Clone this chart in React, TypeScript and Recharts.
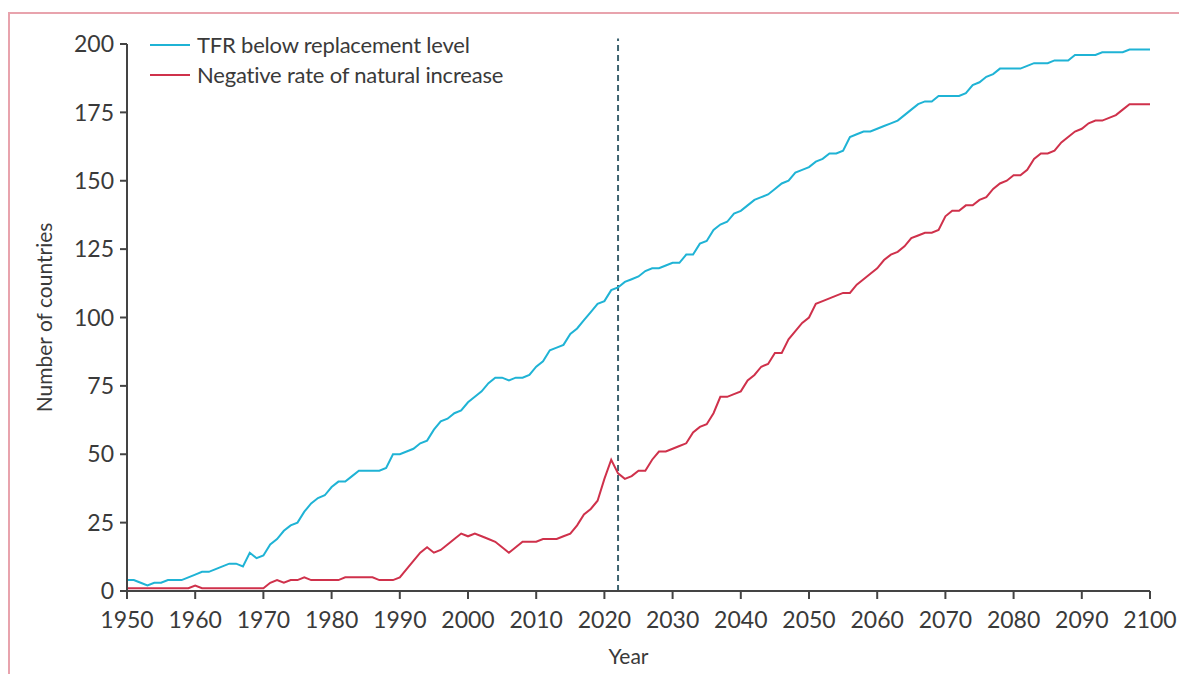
import React from "react"
import {
  LineChart,
  Line,
  XAxis,
  YAxis,
  Legend,
  ReferenceLine,
} from "recharts"

const years = [
  1950, 1951, 1952, 1953, 1954, 1955, 1956, 1957, 1958, 1959,
  1960, 1961, 1962, 1963, 1964, 1965, 1966, 1967, 1968, 1969,
  1970, 1971, 1972, 1973, 1974, 1975, 1976, 1977, 1978, 1979,
  1980, 1981, 1982, 1983, 1984, 1985, 1986, 1987, 1988, 1989,
  1990, 1991, 1992, 1993, 1994, 1995, 1996, 1997, 1998, 1999,
  2000, 2001, 2002, 2003, 2004, 2005, 2006, 2007, 2008, 2009,
  2010, 2011, 2012, 2013, 2014, 2015, 2016, 2017, 2018, 2019,
  2020, 2021, 2022, 2023, 2024, 2025, 2026, 2027, 2028, 2029,
  2030, 2031, 2032, 2033, 2034, 2035, 2036, 2037, 2038, 2039,
  2040, 2041, 2042, 2043, 2044, 2045, 2046, 2047, 2048, 2049,
  2050, 2051, 2052, 2053, 2054, 2055, 2056, 2057, 2058, 2059,
  2060, 2061, 2062, 2063, 2064, 2065, 2066, 2067, 2068, 2069,
  2070, 2071, 2072, 2073, 2074, 2075, 2076, 2077, 2078, 2079,
  2080, 2081, 2082, 2083, 2084, 2085, 2086, 2087, 2088, 2089,
  2090, 2091, 2092, 2093, 2094, 2095, 2096, 2097, 2098, 2099,
  2100,
]

// countries with TFR below replacement level
const tfrBelow = [
  4, 4, 3, 2, 3, 3, 4, 4, 4, 5,
  6, 7, 7, 8, 9, 10, 10, 9, 14, 12,
  13, 17, 19, 22, 24, 25, 29, 32, 34, 35,
  38, 40, 40, 42, 44, 44, 44, 44, 45, 50,
  50, 51, 52, 54, 55, 59, 62, 63, 65, 66,
  69, 71, 73, 76, 78, 78, 77, 78, 78, 79,
  82, 84, 88, 89, 90, 94, 96, 99, 102, 105,
  106, 110, 111, 113, 114, 115, 117, 118, 118, 119,
  120, 120, 123, 123, 127, 128, 132, 134, 135, 138,
  139, 141, 143, 144, 145, 147, 149, 150, 153, 154,
  155, 157, 158, 160, 160, 161, 166, 167, 168, 168,
  169, 170, 171, 172, 174, 176, 178, 179, 179, 181,
  181, 181, 181, 182, 185, 186, 188, 189, 191, 191,
  191, 191, 192, 193, 193, 193, 194, 194, 194, 196,
  196, 196, 196, 197, 197, 197, 197, 198, 198, 198,
  198,
]

// countries with negative rate of natural increase
const negativeNatural = [
  1, 1, 1, 1, 1, 1, 1, 1, 1, 1,
  2, 1, 1, 1, 1, 1, 1, 1, 1, 1,
  1, 3, 4, 3, 4, 4, 5, 4, 4, 4,
  4, 4, 5, 5, 5, 5, 5, 4, 4, 4,
  5, 8, 11, 14, 16, 14, 15, 17, 19, 21,
  20, 21, 20, 19, 18, 16, 14, 16, 18, 18,
  18, 19, 19, 19, 20, 21, 24, 28, 30, 33,
  41, 48, 43, 41, 42, 44, 44, 48, 51, 51,
  52, 53, 54, 58, 60, 61, 65, 71, 71, 72,
  73, 77, 79, 82, 83, 87, 87, 92, 95, 98,
  100, 105, 106, 107, 108, 109, 109, 112, 114, 116,
  118, 121, 123, 124, 126, 129, 130, 131, 131, 132,
  137, 139, 139, 141, 141, 143, 144, 147, 149, 150,
  152, 152, 154, 158, 160, 160, 161, 164, 166, 168,
  169, 171, 172, 172, 173, 174, 176, 178, 178, 178,
  178,
]

const xTicks = [1950, 1960, 1970, 1980, 1990, 2000, 2010, 2020, 2030, 2040, 2050, 2060, 2070, 2080, 2090, 2100]
const yTicks = [0, 25, 50, 75, 100, 125, 150, 175, 200]

const data = years.map((year, i) => ({
  year,
  tfr: tfrBelow[i],
  nri: negativeNatural[i],
}))

const FONT = "Lato, 'Open Sans', sans-serif"
const TEXT = "#3a3a3a"
const AXIS = "#444"
const CYAN = "#1fb3d5"
const RED = "#cf314b"

const legendItems = [
  { label: "TFR below replacement level", color: CYAN },
  { label: "Negative rate of natural increase", color: RED },
]

function ChartLegend() {
  return (
    <div style={{ fontFamily: FONT, fontSize: 22, letterSpacing: -0.2, color: TEXT, lineHeight: "30px" }}>
      {legendItems.map((item) => (
        <div key={item.label} style={{ display: "flex", alignItems: "center" }}>
          <span style={{ width: 40, height: 2, background: item.color, marginRight: 7 }} />
          <span>{item.label}</span>
        </div>
      ))}
    </div>
  )
}

function YLabel({ viewBox }: any) {
  const cx = viewBox.x + 33
  const cy = viewBox.y + viewBox.height / 2
  return (
    <text
      x={cx}
      y={cy}
      transform={`rotate(-90 ${cx} ${cy})`}
      textAnchor="middle"
      dominantBaseline="central"
      fill={TEXT}
      fontSize={21}
      fontFamily={FONT}
    >
      Number of countries
    </text>
  )
}

export default function App() {
  return (
    <div
      style={{
        marginTop: 4,
        borderTop: "2px solid #e8a3ad",
        borderLeft: "2px solid #e8a3ad",
        width: 1169,
        height: 660,
        background: "#fff",
      }}
    >
      <LineChart
        width={1169}
        height={660}
        data={data}
        margin={{ top: 30, right: 29, bottom: 3, left: 0 }}
      >
        <XAxis
          dataKey="year"
          type="number"
          domain={[1950, 2100]}
          ticks={xTicks}
          interval={0}
          height={80}
          stroke={AXIS}
          strokeWidth={2}
          tickSize={8}
          tickMargin={13}
          tick={{ fill: TEXT, fontSize: 23, fontFamily: FONT }}
          label={{ value: "Year", position: "insideBottom", offset: 7, dx: -10, fill: TEXT, fontSize: 21, fontFamily: FONT }}
        />
        <YAxis
          type="number"
          domain={[0, 200]}
          ticks={yTicks}
          interval={0}
          width={117}
          stroke={AXIS}
          strokeWidth={2}
          tickSize={7}
          tickMargin={6}
          tick={{ fill: TEXT, fontSize: 23, fontFamily: FONT }}
          label={<YLabel />}
        />
        <ReferenceLine
          segment={[{ x: 2022, y: 0 }, { x: 2022, y: 202 }]}
          ifOverflow="visible"
          stroke="#3e6370"
          strokeWidth={2}
          strokeDasharray="6 4"
        />
        <Legend
          layout="vertical"
          align="center"
          verticalAlign="middle"
          content={<ChartLegend />}
          wrapperStyle={{ top: 16, left: 140, width: "auto", height: "auto" }}
        />
        <Line
          type="linear"
          dataKey="tfr"
          stroke={CYAN}
          strokeWidth={2}
          dot={false}
          isAnimationActive={false}
        />
        <Line
          type="linear"
          dataKey="nri"
          stroke={RED}
          strokeWidth={2}
          dot={false}
          isAnimationActive={false}
        />
      </LineChart>
    </div>
  )
}
